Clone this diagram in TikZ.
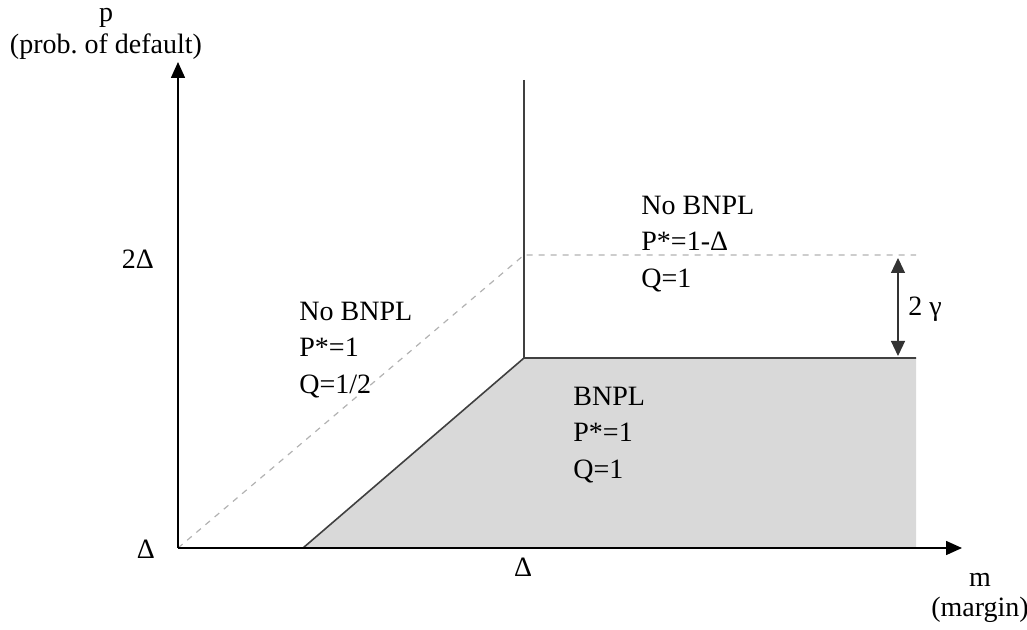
\documentclass[tikz,border=0pt]{standalone}
\usepackage{fontspec}
\setmainfont{Liberation Serif}
\usetikzlibrary{arrows.meta}
\begin{document}
\begin{tikzpicture}[x=0.5pt,y=-0.5pt,
  lbl/.style={inner sep=0pt,font=\fontsize{14}{18.2}\selectfont},
  blk/.style={lbl,align=left,anchor=west},
  axis/.style={line width=0.8pt,-{Triangle[length=8pt,width=7pt]}},
  edge/.style={draw=black!75,line width=0.8pt},
  guide/.style={draw=black!30,dashed,line width=0.6pt},
  dbl/.style={line width=0.6pt,draw=black!80,{Triangle[length=7.5pt,width=7pt]}-{Triangle[length=7.5pt,width=7pt]}}]
\useasboundingbox (0,0) rectangle (1027,630);
% key points
\coordinate (O) at (178,548);
\coordinate (ytip) at (178,62);
\coordinate (xtip) at (962,548);
\coordinate (A) at (303,548);
\coordinate (B) at (524,358);
\coordinate (C) at (916,358);
\coordinate (D) at (916,548);
\coordinate (T) at (524,80);
\coordinate (G) at (524,255);
\coordinate (H) at (916,255);
\coordinate (U) at (898,258);
\coordinate (L) at (898,356);
% shaded region
\fill[black!15] (A) -- (B) -- (C) -- (D) -- cycle;
% guides
\draw[guide] (O) -- (G) -- (H);
% boundaries
\draw[edge] (A) -- (B) -- (C);
\draw[edge] (T) -- (B);
% axes
\draw[axis] (O) -- (ytip);
\draw[axis] (O) -- (xtip);
% 2 gamma arrow
\draw[dbl] (U) -- (L);
\node[lbl,anchor=west] (gam) at (908,309) {2 γ};
% axis labels
\node[lbl] (p) at (106,18) {p};
\node[lbl] (pl) at (106,47) {(prob.\ of default)};
\node[lbl] (m) at (980,580) {m};
\node[lbl] (ml) at (980,610) {(margin)};
\node[lbl] (d2) at (138,259) {2Δ};
\node[lbl] (d1) at (146,549) {Δ};
\node[lbl] (d3) at (523,567) {Δ};
% region labels
\node[blk] (r1) at (299,350) {No BNPL\\P*=1\\Q=1/2};
\node[blk] (r2) at (641,244) {No BNPL\\P*=1-Δ\\Q=1};
\node[blk] (r3) at (573,435) {BNPL\\P*=1\\Q=1};
\end{tikzpicture}
\end{document}
